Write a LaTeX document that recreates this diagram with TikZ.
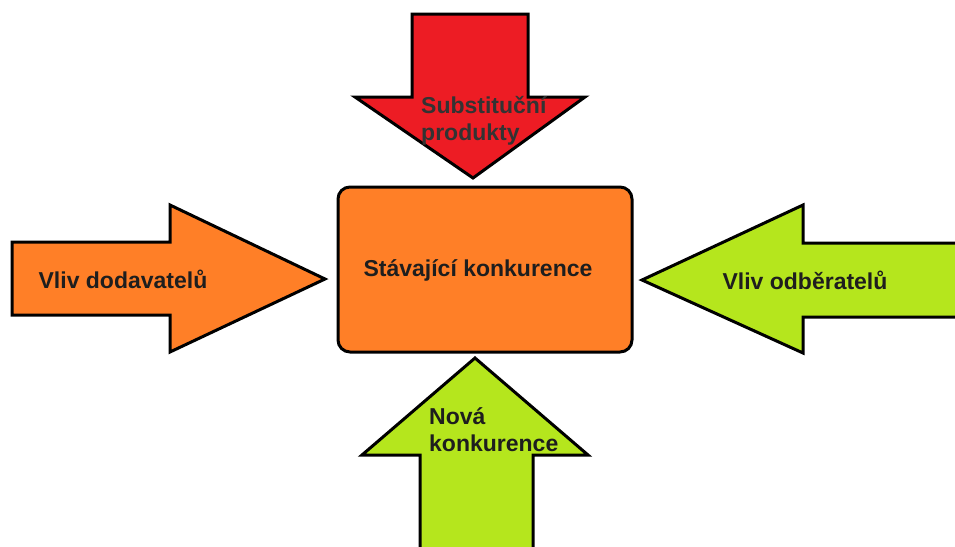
\documentclass[tikz,border=0pt]{standalone}
\usepackage{fontspec}
\setmainfont{Liberation Sans}
\definecolor{redA}{HTML}{ED1C24}
\definecolor{orangeA}{HTML}{FF7F27}
\definecolor{greenA}{HTML}{B5E61D}
\definecolor{txt}{HTML}{1E1E1E}
\begin{document}
\begin{tikzpicture}[x=1pt,y=-1pt,
  blk/.style={draw=black,line width=3pt,line join=miter},
  lbl/.style={text=txt,font=\fontsize{23}{27}\selectfont\bfseries,inner sep=0pt},
  lblL/.style={lbl,align=left,anchor=west}]
\useasboundingbox (0,0) rectangle (955,546);
\clip (0,0) rectangle (955,546);
% top (red) arrow
\path[blk,fill=redA] (412,14) -- (528,14) -- (528,97) -- (585,97) -- (473,178) -- (355,97) -- (412,97) -- cycle;
% left (orange) arrow
\path[blk,fill=orangeA] (12,242) -- (170,242) -- (170,205) -- (325,279) -- (170,352) -- (170,315) -- (12,315) -- cycle;
% right (green) arrow
\path[blk,fill=greenA] (965,243) -- (803,243) -- (803,205) -- (642,280) -- (803,353) -- (803,317) -- (965,317);
% bottom (green) arrow
\path[blk,fill=greenA] (420,560) -- (420,455) -- (362,455) -- (475,358) -- (588,455) -- (533,455) -- (533,560);
% central box
\node[blk,fill=orangeA,rounded corners=12pt,minimum width=294pt,minimum height=165pt,inner sep=0pt] (box) at (485,269.5) {};
\node[lbl] (center) at (478,270) {Stávající konkurence};
\node[lblL,text=black!80] (subst) at (421,121) {Substituční\\produkty};
\node[lbl] (supp) at (123,279) {Vliv dodavatelů};
\node[lbl] (cust) at (805,280) {Vliv odběratelů};
\node[lblL] (new) at (429,430) {Nová\\konkurence};
\end{tikzpicture}
\end{document}
